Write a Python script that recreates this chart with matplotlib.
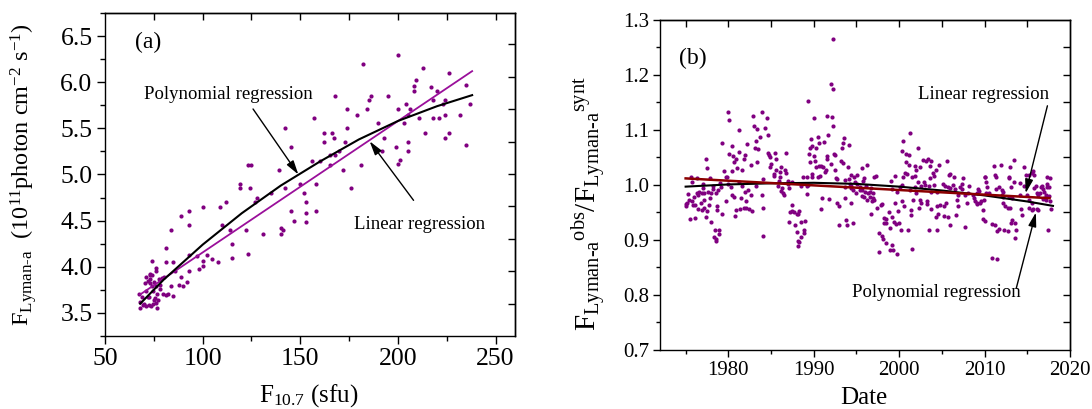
import matplotlib
matplotlib.use('Agg')
import matplotlib.pyplot as plt
from matplotlib.ticker import MultipleLocator

plt.rcParams['font.family'] = 'Liberation Serif'
plt.rcParams['mathtext.fontset'] = 'custom'
plt.rcParams['mathtext.rm'] = 'Liberation Serif'
plt.rcParams['mathtext.it'] = 'Liberation Serif:italic'
plt.rcParams['mathtext.bf'] = 'Liberation Serif:bold'

# ---- panel (a): Lyman-alpha flux vs F10.7 ----
a_f107 = [200, 182, 213, 226, 209, 208, 208, 235, 217, 168,
          186, 195, 220, 185, 224, 218, 204, 223, 237, 174,
          184, 200, 206, 179, 205, 224, 232, 157, 211, 218,
          221, 174, 203, 190, 142, 162, 166, 214, 226, 167,
          193, 224, 162, 173, 205, 235, 145, 199, 192, 205,
          165, 168, 170, 201, 200, 156, 160, 181, 123, 125,
          139, 172, 165, 150, 158, 119, 119, 124, 142, 176,
          135, 152, 128, 153, 109, 112, 100, 127, 145, 153,
          158, 93, 89, 93, 110, 147, 153, 84, 114, 122,
          140, 141, 131, 140, 115, 81, 93, 97, 102, 123,
          115, 105, 108, 100, 85, 100, 98, 93, 86, 89,
          92, 88, 90, 84, 85, 74, 76, 76, 81, 73,
          74, 73, 77.5, 79, 80, 75, 73, 70.5, 74, 76,
          78, 71, 74.5, 76.5, 79.5, 81, 82, 67.5, 69, 72.5,
          75.5, 77, 68, 70, 72.5, 74.5, 76, 71, 69.5, 68,
          76.5, 73.5, 72, 75, 72, 71, 73, 78]
a_lya = [6.30, 6.20, 6.15, 6.10, 6.02, 5.96, 5.91, 5.97, 5.95, 5.85,
         5.85, 5.85, 5.91, 5.81, 5.81, 5.81, 5.76, 5.76, 5.76, 5.71,
         5.71, 5.71, 5.71, 5.65, 5.65, 5.65, 5.65, 5.61, 5.61, 5.61,
         5.61, 5.50, 5.56, 5.56, 5.50, 5.45, 5.45, 5.45, 5.45, 5.40,
         5.40, 5.40, 5.35, 5.35, 5.35, 5.32, 5.30, 5.30, 5.25, 5.25,
         5.21, 5.21, 5.25, 5.16, 5.11, 5.15, 5.15, 5.10, 5.10, 5.10,
         5.05, 5.05, 5.10, 4.90, 4.90, 4.90, 4.85, 4.85, 4.85, 4.85,
         4.80, 4.80, 4.75, 4.70, 4.65, 4.70, 4.65, 4.70, 4.60, 4.58,
         4.60, 4.60, 4.55, 4.45, 4.45, 4.50, 4.48, 4.40, 4.40, 4.40,
         4.42, 4.40, 4.35, 4.35, 4.25, 4.20, 4.13, 4.12, 4.13, 4.14,
         4.10, 4.08, 4.05, 4.06, 4.05, 4.01, 3.98, 3.95, 3.95, 3.89,
         3.84, 3.80, 3.79, 3.79, 3.68, 4.06, 3.99, 3.95, 4.05, 3.91,
         3.91, 3.87, 3.87, 3.88, 3.89, 3.84, 3.82, 3.82, 3.79, 3.79,
         3.76, 3.74, 3.74, 3.71, 3.71, 3.69, 3.70, 3.70, 3.67, 3.67,
         3.66, 3.64, 3.62, 3.60, 3.59, 3.60, 3.61, 3.58, 3.59, 3.55,
         3.55, 3.57, 3.67, 3.64, 3.85, 3.89, 3.92, 3.80]

a_lin_x = [68, 238]
a_lin_y = [3.70, 6.12]
a_poly_x = [68, 80, 100, 120, 140, 160, 180, 200, 220, 238]
a_poly_y = [3.60, 3.86, 4.24, 4.58, 4.88, 5.14, 5.38, 5.58, 5.74, 5.86]

# ---- panel (b): observed / synthetic ratio vs date ----
b_year = [
    # 1975-1988
    1980.0, 1980.1, 1982.9, 1983.9, 1984.5, 1983.0, 1983.4, 1983.7, 1984.3, 1984.6,
    1981.3, 1979.2, 1980.4, 1983.2, 1982.2, 1983.1, 1983.5, 1981.9, 1980.1, 1980.6,
    1981.2, 1977.4, 1980.9, 1980.7, 1981.8, 1982.7, 1983.3, 1984.8, 1984.9, 1984.7,
    1985.5, 1985.6, 1985.0, 1984.9, 1985.3, 1985.3, 1985.6, 1986.2, 1986.1, 1986.6,
    1986.8, 1986.8, 1981.0, 1980.4, 1981.6, 1979.9, 1979.7, 1979.5, 1977.5, 1977.9,
    1975.6, 1976.3, 1984.1, 1986.1, 1986.3, 1986.4, 1986.2, 1986.5, 1985.8, 1985.9,
    1987.0, 1987.0, 1987.4, 1987.1, 1987.5, 1987.2, 1987.4, 1987.7, 1988.0, 1987.1,
    1987.8, 1988.0, 1988.1, 1988.2, 1983.2, 1983.9, 1984.0, 1984.0, 1982.3, 1981.9,
    1982.6, 1982.1, 1981.2, 1981.6, 1980.3, 1980.4, 1980.7, 1980.0, 1979.7, 1979.1,
    1978.2, 1978.5, 1977.6, 1977.9, 1978.2, 1981.5, 1980.9, 1981.4, 1981.8, 1982.1,
    1982.4, 1982.8, 1980.8, 1979.3, 1978.7, 1978.7, 1978.0, 1978.4, 1978.9, 1978.9,
    1978.3, 1978.5, 1978.6, 1976.1, 1976.5, 1976.9, 1977.2, 1977.5, 1977.4, 1977.7,
    1977.2, 1976.8, 1975.8, 1976.0, 1976.5, 1976.9, 1976.3, 1975.9, 1975.3, 1975.4,
    1975.2, 1975.0, 1975.1, 1975.5, 1976.1, 1976.6, 1977.2, 1978.0, 1975.8, 1977.0,
    1979.0, 1977.0, 1978.8,
    # 1988-2004
    1992.3, 1992.0, 1992.2, 1989.3, 1990.0, 1991.5, 1992.1, 1992.3, 1989.7, 1989.8,
    1989.6, 1990.5, 1990.6, 1990.3, 1991.2, 1991.7, 1993.5, 1993.4, 1993.3, 1994.1,
    1990.0, 1990.2, 1991.5, 1991.6, 1992.4, 1992.5, 1989.4, 1989.5, 1990.6, 1990.3,
    1990.9, 1991.1, 1991.3, 1991.4, 1992.0, 1993.2, 1993.4, 1994.0, 1989.8, 1989.8,
    1988.7, 1989.2, 1990.5, 1990.7, 1992.6, 1993.6, 1994.1, 1994.4, 1994.7, 1995.1,
    1995.6, 1996.2, 1995.9, 1995.8, 1994.8, 1995.1, 1994.4, 1994.2, 1995.4, 1995.4,
    1995.7, 1996.0, 1996.3, 1996.6, 1996.9, 1996.1, 1996.7, 1997.1, 1997.3, 1996.6,
    1996.8, 1997.1, 1996.9, 1996.7, 1997.4, 1997.9, 1998.0, 1997.6, 1998.0, 1998.1,
    1998.4, 1997.6, 1998.2, 1998.2, 1998.5, 1998.4, 1998.9, 1999.2, 1999.4, 1999.6,
    1999.1, 1998.9, 1999.3, 1999.7, 1998.8, 1999.5, 1999.9, 2000.3, 2000.6, 2000.0,
    2000.2, 2001.5, 2001.0, 2001.4, 2001.4, 1999.2, 2000.1, 2000.3, 1999.8, 1999.5,
    1999.0, 2000.4, 2001.3, 2000.8, 2001.2, 2000.8, 2001.1, 2000.7, 2000.9, 2000.5,
    2001.5, 2001.8, 2001.9, 2002.0, 2002.4, 2002.2, 2002.8, 2003.1, 2003.4, 2003.7,
    2003.6, 2003.9, 2004.3, 2002.2, 2002.6, 2002.9, 2003.6, 2003.0, 2003.5, 2003.7,
    2002.4, 2002.6, 2003.2, 2003.3, 2003.7, 2001.3, 2001.8, 2002.0, 2003.5, 2004.4,
    2001.6, 2002.3, 1992.7, 1993.0, 1993.7, 1994.3, 1992.9, 1993.8, 1993.9, 1994.6,
    1990.9, 1991.8, 1991.0, 1989.2, 1989.2, 1989.3, 1988.5, 1988.1, 1988.3, 1988.5,
    1989.0, 1988.8, 1988.9, 1988.5, 1988.3, 1992.5, 1992.7, 1993.7, 1994.3, 1994.6,
    1994.9, 1995.6, 1995.9, 1996.2, 2000.3,
    # 2004-2018
    2005.6, 2004.7, 2005.8, 2006.0, 2006.4, 2004.1, 2005.1, 2005.4, 2005.7, 2006.0,
    2006.3, 2006.5, 2007.5, 2007.4, 2007.1, 2007.3, 2008.2, 2008.0, 2006.9, 2007.7,
    2007.9, 2006.8, 2006.9, 2005.5, 2005.3, 2005.7, 2005.3, 2004.6, 2004.3, 2004.8,
    2004.4, 2006.6, 2006.0, 2007.7, 2008.6, 2008.7, 2008.9, 2009.1, 2009.1, 2009.2,
    2009.4, 2009.1, 2010.0, 2010.1, 2010.2, 2010.3, 2010.2, 2010.5, 2009.8, 2009.8,
    2010.0, 2009.5, 2009.6, 2009.9, 2011.1, 2011.9, 2011.2, 2011.3, 2011.7, 2011.3,
    2012.0, 2012.2, 2012.0, 2012.1, 2010.9, 2011.2, 2011.5, 2011.7, 2010.9, 2011.5,
    2012.1, 2012.4, 2012.7, 2013.0, 2012.3, 2012.7, 2013.2, 2013.1, 2013.6, 2013.7,
    2013.6, 2013.0, 2013.4, 2012.9, 2012.8, 2013.4, 2013.1, 2013.2, 2012.8, 2014.1,
    2014.3, 2014.4, 2014.6, 2014.9, 2015.2, 2015.6, 2015.7, 2015.8, 2014.1, 2014.6,
    2015.0, 2015.2, 2015.5, 2015.2, 2015.6, 2015.7, 2016.0, 2015.8, 2016.6, 2016.1,
    2016.3, 2016.5, 2016.8, 2016.7, 2017.3, 2017.3, 2017.5, 2017.3, 2017.6, 2017.0,
    2017.2, 2016.9, 2017.2, 2017.5, 2017.8, 2017.6, 2016.1, 2016.3, 2017.4, 2016.8,
    2004.1, 2004.4]
b_ratio = [
    1.132, 1.119, 1.125, 1.133, 1.121, 1.107, 1.101, 1.088, 1.103, 1.090,
    1.100, 1.077, 1.071, 1.080, 1.075, 1.067, 1.065, 1.055, 1.056, 1.053,
    1.060, 1.048, 1.047, 1.042, 1.047, 1.037, 1.042, 1.055, 1.051, 1.059,
    1.058, 1.048, 1.038, 1.033, 1.020, 1.016, 1.027, 1.032, 1.023, 1.027,
    1.022, 1.058, 1.031, 1.025, 1.028, 1.015, 1.014, 1.025, 1.030, 1.013,
    1.015, 1.012, 1.011, 1.014, 0.995, 0.985, 0.989, 0.981, 0.999, 1.008,
    1.008, 1.001, 1.006, 0.994, 0.964, 0.950, 0.953, 0.950, 0.947, 0.933,
    0.928, 0.915, 0.899, 0.889, 0.998, 0.981, 0.959, 0.907, 0.991, 0.987,
    0.982, 0.971, 1.006, 0.999, 0.997, 0.981, 0.979, 1.002, 0.971, 0.996,
    0.992, 0.986, 0.987, 0.976, 0.999, 0.976, 0.954, 0.956, 0.958, 0.958,
    0.956, 0.953, 0.944, 0.948, 0.961, 0.955, 0.932, 0.919, 0.919, 0.911,
    0.906, 0.899, 0.902, 0.964, 0.956, 0.955, 0.958, 0.952, 0.942, 0.963,
    0.973, 0.967, 0.970, 0.979, 0.982, 0.985, 0.986, 0.963, 0.983, 0.973,
    0.968, 0.961, 0.966, 0.939, 0.940, 0.987, 0.986, 0.985, 1.005, 1.001,
    1.003, 0.995, 0.990,
    1.265, 1.184, 1.175, 1.152, 1.122, 1.125, 1.123, 1.107, 1.084, 1.070,
    1.067, 1.088, 1.076, 1.067, 1.078, 1.090, 1.086, 1.076, 1.067, 1.072,
    1.052, 1.044, 1.052, 1.048, 1.056, 1.054, 1.057, 1.042, 1.035, 1.032,
    1.035, 1.033, 1.024, 1.028, 1.039, 1.044, 1.040, 1.033, 1.020, 1.015,
    1.014, 1.014, 1.015, 1.016, 1.012, 1.009, 1.011, 1.019, 1.015, 1.019,
    1.031, 1.036, 1.012, 1.008, 1.005, 1.002, 0.999, 1.001, 0.997, 0.991,
    0.991, 0.988, 0.985, 0.988, 0.985, 0.998, 0.995, 1.015, 1.016, 0.979,
    0.970, 0.973, 0.976, 0.948, 0.959, 0.964, 0.965, 0.913, 0.907, 0.901,
    0.895, 0.878, 0.940, 0.930, 0.930, 0.938, 0.922, 0.942, 0.932, 0.929,
    0.891, 0.881, 0.882, 0.875, 0.951, 0.968, 0.953, 0.970, 0.961, 0.930,
    0.919, 0.883, 0.919, 0.945, 0.955, 0.993, 0.997, 1.000, 0.988, 1.016,
    1.008, 1.080, 1.094, 1.056, 1.055, 1.042, 1.036, 1.021, 1.020, 1.015,
    1.015, 1.017, 1.035, 1.027, 1.032, 1.067, 1.046, 1.044, 1.047, 1.044,
    1.035, 1.022, 1.027, 1.005, 0.999, 1.005, 1.012, 1.000, 0.999, 0.987,
    0.973, 0.967, 0.971, 0.966, 0.956, 0.991, 0.997, 0.986, 0.918, 0.918,
    0.973, 0.958, 0.967, 0.962, 0.976, 0.968, 0.927, 0.936, 0.927, 0.930,
    0.956, 0.975, 0.977, 0.983, 0.998, 1.000, 0.998, 0.948, 0.952, 0.932,
    0.935, 0.918, 0.912, 0.906, 0.896, 1.028, 1.011, 0.997, 0.994, 0.991,
    0.986, 0.980, 0.979, 0.972, 1.061,
    1.044, 1.037, 1.019, 1.020, 1.015, 1.017, 1.002, 0.999, 0.997, 0.994,
    1.000, 0.993, 1.013, 1.002, 0.996, 0.992, 0.999, 0.985, 0.982, 0.981,
    0.967, 0.972, 0.962, 0.967, 0.962, 0.942, 0.944, 0.948, 0.941, 0.964,
    0.961, 0.945, 0.928, 0.924, 0.982, 0.976, 0.971, 0.968, 0.965, 0.992,
    0.989, 0.985, 1.014, 1.015, 1.006, 0.997, 0.986, 0.986, 0.954, 0.939,
    0.935, 0.967, 0.970, 0.973, 1.035, 1.036, 1.018, 1.015, 0.997, 0.993,
    0.991, 0.988, 0.982, 0.978, 0.929, 0.927, 0.917, 0.920, 0.868, 0.866,
    0.967, 0.962, 0.958, 0.958, 0.918, 0.917, 0.936, 0.930, 0.931, 0.918,
    0.903, 1.032, 1.045, 1.015, 1.012, 1.006, 0.996, 0.976, 0.978, 0.981,
    0.956, 0.945, 1.033, 1.019, 1.019, 1.022, 1.026, 1.018, 1.003, 0.998,
    0.982, 0.972, 0.967, 0.959, 0.955, 0.956, 0.999, 0.995, 0.997, 0.986,
    0.982, 0.985, 0.992, 0.998, 1.002, 0.997, 0.996, 1.015, 1.013, 0.988,
    0.982, 0.977, 0.973, 0.980, 0.956, 0.970, 0.957, 0.955, 0.919, 0.975,
    1.000, 0.988]

b_lin_year = [1975.0, 2017.6]
b_lin_ratio = [1.012, 0.976]
b_poly_year = [1975, 1980, 1985, 1990, 1995, 2000, 2005, 2010, 2015, 2018]
b_poly_ratio = [0.997, 1.001, 1.003, 1.004, 1.002, 0.997, 0.990, 0.981, 0.970, 0.962]

dot_color = '#800080'
arrow = dict(arrowstyle='-|>,head_length=0.7,head_width=0.2', color='black',
             lw=1.0, mutation_scale=12, shrinkA=0, shrinkB=0)

fig = plt.figure(figsize=(10.92, 4.09), dpi=100)
ax1 = fig.add_axes([0.0962, 0.1785, 0.3755, 0.7897])
ax2 = fig.add_axes([0.6044, 0.1443, 0.3755, 0.8068])

# ---------- (a) ----------
ax1.scatter(a_f107, a_lya, s=9, color=dot_color, linewidths=0, zorder=2)
ax1.plot(a_lin_x, a_lin_y, color='#9a0f9a', lw=1.3, zorder=3)
ax1.plot(a_poly_x, a_poly_y, color='black', lw=1.5, zorder=3)
ax1.set_xlim(50, 260)
ax1.set_ylim(3.25, 6.75)
ax1.xaxis.set_major_locator(MultipleLocator(50))
ax1.xaxis.set_minor_locator(MultipleLocator(25))
ax1.yaxis.set_major_locator(MultipleLocator(0.5))
ax1.yaxis.set_minor_locator(MultipleLocator(0.25))
ax1.tick_params(which='both', direction='out', width=1, labelsize=18.5)
ax1.tick_params(which='major', length=6, pad=3)
ax1.tick_params(which='minor', length=3.5)

top1 = ax1.secondary_xaxis('top')
top1.set_xticks([75, 100, 125, 150, 175, 200, 225, 250])
top1.tick_params(direction='in', length=5, width=1, labeltop=False)
right1 = ax1.secondary_yaxis('right')
right1.set_yticks([3.601, 3.954, 4.302, 4.655, 5.007, 5.356, 5.708, 6.053, 6.416])
right1.tick_params(direction='in', length=5, width=1, labelright=False)

ax1.set_xlabel(r'F$_{10.7}$ (sfu)', fontsize=18)
ax1.xaxis.set_label_coords(0.497, -0.142)
ax1.set_ylabel(r'F$_{\text{Lyman-a}}$  (10$^{11}$photon cm$^{-2}$ s$^{-1}$)', fontsize=17.5)
ax1.yaxis.set_label_coords(-0.16, 0.5)

ax1.text(72, 6.43, '(a)', fontsize=17, ha='center', va='center')
ax1.text(113, 5.87, 'Polynomial regression', fontsize=13.5, ha='center', va='center')
ax1.annotate('', xy=(149, 5.00), xytext=(125.8, 5.71), arrowprops=arrow)
ax1.text(211, 4.455, 'Linear regression', fontsize=13.5, ha='center', va='center')
ax1.annotate('', xy=(185.5, 5.36), xytext=(208, 4.72), arrowprops=arrow)

# ---------- (b) ----------
ax2.scatter(b_year, b_ratio, s=9, color=dot_color, linewidths=0, zorder=2)
ax2.plot(b_poly_year, b_poly_ratio, color='black', lw=1.5, zorder=3)
ax2.plot(b_lin_year, b_lin_ratio, color='#8b0000', lw=1.8, zorder=4)
ax2.set_xlim(1972, 2020)
ax2.set_ylim(0.7, 1.3)
ax2.xaxis.set_major_locator(MultipleLocator(10))
ax2.xaxis.set_minor_locator(MultipleLocator(5))
ax2.yaxis.set_major_locator(MultipleLocator(0.1))
ax2.yaxis.set_minor_locator(MultipleLocator(0.05))
ax2.tick_params(which='both', direction='out', width=1, labelsize=15)
ax2.tick_params(which='major', length=5, pad=3)
ax2.tick_params(which='minor', length=3)

top2 = ax2.secondary_xaxis('top')
top2.set_xticks([1975, 1980, 1985, 1990, 1995, 2000, 2005, 2010, 2015])
top2.tick_params(direction='in', length=5, width=1, labeltop=False)
right2 = ax2.secondary_yaxis('right')
right2.set_yticks([0.75, 0.8, 0.85, 0.9, 0.95, 1.0, 1.05, 1.1, 1.15, 1.2, 1.25])
right2.tick_params(direction='in', length=5, width=1, labelright=False)

ax2.set_xlabel('Date', fontsize=18)
ax2.xaxis.set_label_coords(0.498, -0.112)
ax2.set_ylabel(r'F$_{\text{Lyman-a}}{}^{\text{obs}}$/F$_{\text{Lyman-a}}{}^{\text{synt}}$',
               fontsize=21)
ax2.yaxis.set_label_coords(-0.128, 0.444)

ax2.text(1975.8, 1.23, '(b)', fontsize=17, ha='center', va='center')
ax2.text(2009.9, 1.164, 'Linear regression', fontsize=13.5, ha='center', va='center')
ax2.annotate('', xy=(2014.8, 0.985), xytext=(2017.35, 1.144), arrowprops=arrow)
ax2.text(2004.3, 0.804, 'Polynomial regression', fontsize=13.5, ha='center', va='center')
ax2.annotate('', xy=(2016.0, 0.950), xytext=(2013.7, 0.812), arrowprops=arrow)

for ax in (ax1, ax2, top1, right1, top2, right2):
    for sp in ax.spines.values():
        sp.set_linewidth(1.0)

fig.savefig('out.png', dpi=100)
